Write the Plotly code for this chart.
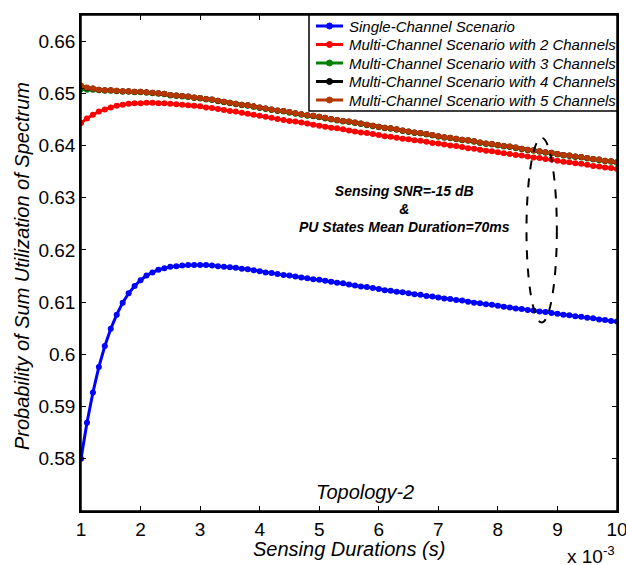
import plotly.graph_objects as go

# Sensing durations in units of 1e-3 s (1 ms to 10 ms, 0.1 ms steps)
durations = [round(1 + 0.1 * i, 1) for i in range(91)]

single_channel = [
    0.5800, 0.5869, 0.5927, 0.5976, 0.6016, 0.6049, 0.6076, 0.6099, 0.6117, 0.6131,
    0.6142, 0.6151, 0.6157, 0.6162, 0.6165, 0.6168, 0.6169, 0.6170, 0.6171, 0.6171,
    0.6171, 0.6171, 0.6170, 0.6169, 0.6168, 0.6167, 0.6166, 0.6164, 0.6163, 0.6161,
    0.6159, 0.6157, 0.6156, 0.6154, 0.6152, 0.6151, 0.6149, 0.6147, 0.6146, 0.6144,
    0.6143, 0.6141, 0.6139, 0.6137, 0.6136, 0.6134, 0.6132, 0.6130, 0.6129, 0.6127,
    0.6125, 0.6123, 0.6122, 0.6120, 0.6119, 0.6117, 0.6115, 0.6114, 0.6112, 0.6111,
    0.6109, 0.6107, 0.6106, 0.6104, 0.6103, 0.6101, 0.6099, 0.6098, 0.6096, 0.6095,
    0.6093, 0.6091, 0.6090, 0.6088, 0.6087, 0.6085, 0.6084, 0.6082, 0.6081, 0.6079,
    0.6078, 0.6076, 0.6075, 0.6073, 0.6072, 0.6070, 0.6069, 0.6067, 0.6066, 0.6064,
    0.6063,
]

multi_2ch = [
    0.6443, 0.6452, 0.6459, 0.6465, 0.6469, 0.6473, 0.6476, 0.6478, 0.6480, 0.6481,
    0.6481, 0.6482, 0.6482, 0.6481, 0.6481, 0.6480, 0.6479, 0.6478, 0.6477, 0.6476,
    0.6475, 0.6473, 0.6472, 0.6470, 0.6468, 0.6466, 0.6465, 0.6463, 0.6461, 0.6459,
    0.6457, 0.6455, 0.6453, 0.6451, 0.6449, 0.6447, 0.6446, 0.6444, 0.6442, 0.6440,
    0.6438, 0.6436, 0.6434, 0.6433, 0.6431, 0.6429, 0.6427, 0.6425, 0.6424, 0.6422,
    0.6420, 0.6418, 0.6417, 0.6415, 0.6413, 0.6412, 0.6410, 0.6409, 0.6407, 0.6405,
    0.6404, 0.6402, 0.6400, 0.6399, 0.6397, 0.6395, 0.6394, 0.6392, 0.6390, 0.6389,
    0.6387, 0.6385, 0.6384, 0.6382, 0.6381, 0.6379, 0.6377, 0.6376, 0.6374, 0.6373,
    0.6371, 0.6369, 0.6368, 0.6366, 0.6365, 0.6363, 0.6361, 0.6360, 0.6358, 0.6357,
    0.6355,
]

multi_3ch = [
    0.6508, 0.6507, 0.6507, 0.6506, 0.6505, 0.6505, 0.6504, 0.6503, 0.6503, 0.6502,
    0.6502, 0.6501, 0.6500, 0.6499, 0.6498, 0.6496, 0.6495, 0.6494, 0.6493, 0.6491,
    0.6490, 0.6488, 0.6487, 0.6485, 0.6483, 0.6481, 0.6479, 0.6477, 0.6476, 0.6474,
    0.6472, 0.6470, 0.6468, 0.6466, 0.6465, 0.6463, 0.6461, 0.6459, 0.6457, 0.6456,
    0.6454, 0.6452, 0.6450, 0.6448, 0.6446, 0.6445, 0.6443, 0.6441, 0.6439, 0.6437,
    0.6435, 0.6433, 0.6432, 0.6430, 0.6428, 0.6426, 0.6424, 0.6423, 0.6421, 0.6419,
    0.6417, 0.6415, 0.6414, 0.6412, 0.6410, 0.6409, 0.6407, 0.6405, 0.6403, 0.6402,
    0.6400, 0.6398, 0.6397, 0.6395, 0.6393, 0.6391, 0.6390, 0.6388, 0.6386, 0.6385,
    0.6383, 0.6381, 0.6380, 0.6378, 0.6377, 0.6375, 0.6373, 0.6372, 0.6370, 0.6369,
    0.6367,
]

multi_4ch = [
    0.6513, 0.6510, 0.6509, 0.6507, 0.6506, 0.6506, 0.6505, 0.6504, 0.6504, 0.6503,
    0.6503, 0.6502, 0.6501, 0.6500, 0.6499, 0.6497, 0.6496, 0.6495, 0.6494, 0.6492,
    0.6491, 0.6489, 0.6488, 0.6486, 0.6484, 0.6482, 0.6480, 0.6478, 0.6477, 0.6475,
    0.6473, 0.6471, 0.6469, 0.6467, 0.6466, 0.6464, 0.6462, 0.6460, 0.6458, 0.6457,
    0.6455, 0.6453, 0.6451, 0.6449, 0.6447, 0.6446, 0.6444, 0.6442, 0.6440, 0.6438,
    0.6436, 0.6434, 0.6433, 0.6431, 0.6429, 0.6427, 0.6425, 0.6424, 0.6422, 0.6420,
    0.6418, 0.6416, 0.6415, 0.6413, 0.6411, 0.6410, 0.6408, 0.6406, 0.6404, 0.6403,
    0.6401, 0.6399, 0.6398, 0.6396, 0.6394, 0.6392, 0.6391, 0.6389, 0.6387, 0.6386,
    0.6384, 0.6382, 0.6381, 0.6379, 0.6378, 0.6376, 0.6374, 0.6373, 0.6371, 0.6370,
    0.6368,
]

multi_5ch = [
    0.6515, 0.6511, 0.6509, 0.6507, 0.6506, 0.6506, 0.6505, 0.6504, 0.6504, 0.6503,
    0.6503, 0.6502, 0.6501, 0.6500, 0.6499, 0.6497, 0.6496, 0.6495, 0.6494, 0.6492,
    0.6491, 0.6489, 0.6488, 0.6486, 0.6484, 0.6482, 0.6480, 0.6478, 0.6477, 0.6475,
    0.6473, 0.6471, 0.6469, 0.6467, 0.6466, 0.6464, 0.6462, 0.6460, 0.6458, 0.6457,
    0.6455, 0.6453, 0.6451, 0.6449, 0.6447, 0.6446, 0.6444, 0.6442, 0.6440, 0.6438,
    0.6436, 0.6434, 0.6433, 0.6431, 0.6429, 0.6427, 0.6425, 0.6424, 0.6422, 0.6420,
    0.6418, 0.6416, 0.6415, 0.6413, 0.6411, 0.6410, 0.6408, 0.6406, 0.6404, 0.6403,
    0.6401, 0.6399, 0.6398, 0.6396, 0.6394, 0.6392, 0.6391, 0.6389, 0.6387, 0.6386,
    0.6384, 0.6382, 0.6381, 0.6379, 0.6378, 0.6376, 0.6374, 0.6373, 0.6371, 0.6370,
    0.6368,
]

series_names = [
    "Single-Channel Scenario",
    "Multi-Channel Scenario with 2 Channels",
    "Multi-Channel Scenario with 3 Channels",
    "Multi-Channel Scenario with 4 Channels",
    "Multi-Channel Scenario with 5 Channels",
]
series_values = [single_channel, multi_2ch, multi_3ch, multi_4ch, multi_5ch]
series_colors = ["#0000ff", "#ff0000", "#008000", "#000000", "#b43700"]

x_ticks = [1, 2, 3, 4, 5, 6, 7, 8, 9, 10]
y_ticks = [0.58, 0.59, 0.60, 0.61, 0.62, 0.63, 0.64, 0.65, 0.66]
y_tick_text = ["0.58", "0.59", "0.6", "0.61", "0.62", "0.63", "0.64", "0.65", "0.66"]

FONT = "Liberation Sans, Arial, Helvetica, sans-serif"
W, H = 626, 565
ML, MR, MT, MB = 81, 9, 15, 54
PW, PH = W - ML - MR, H - MT - MB


def px_x(px):
    """Horizontal pixel -> paper coordinate."""
    return (px - ML) / PW


def px_y(py):
    """Vertical pixel (from top) -> paper coordinate."""
    return (H - MB - py) / PH


fig = go.Figure()
for name, vals, col in zip(series_names, series_values, series_colors):
    fig.add_trace(go.Scatter(
        x=durations, y=vals, name=name, mode="lines+markers",
        line=dict(color=col, width=3),
        marker=dict(color=col, size=6, symbol="circle"),
        showlegend=False,
    ))

axis_common = dict(
    showline=True, linecolor="black", linewidth=1.5, mirror="ticks",
    ticks="inside", ticklen=5, tickwidth=1, tickcolor="black",
    showgrid=False, zeroline=False, automargin=False,
    ticklabeloverflow="allow",
    tickfont=dict(family=FONT, size=19, color="black"),
)

fig.update_xaxes(range=[1, 10], tickvals=x_ticks,
                 ticktext=[str(t) for t in x_ticks], **axis_common)
fig.update_yaxes(range=[0.57, 0.665], tickvals=y_ticks,
                 ticktext=y_tick_text, **axis_common)

shapes = []
# Axes frame
shapes.append(dict(type="rect", xref="paper", yref="paper",
                   x0=0, x1=1, y0=0, y1=1,
                   line=dict(color="black", width=1.5), layer="above"))
# Highlight ellipse around the curves near 8.7 ms
shapes.append(dict(type="circle", xref="x", yref="y",
                   x0=8.48, x1=8.99, y0=0.6061, y1=0.6415,
                   line=dict(color="black", width=2, dash="dash")))

annotations = [
    dict(text="<b><i>Sensing SNR=-15 dB<br>&amp;<br>PU States Mean Duration=70ms</i></b>",
         x=6.43, y=0.6278, xref="x", yref="y", showarrow=False,
         font=dict(family=FONT, size=14, color="black"), align="center"),
    dict(text="<i>Topology-2</i>", x=5.77, y=0.5736, xref="x", yref="y",
         showarrow=False, font=dict(family=FONT, size=20, color="black")),
    dict(text="<i>Sensing Durations (s)</i>", x=0.5, y=px_y(549), xref="paper",
         yref="paper", yanchor="middle", showarrow=False,
         font=dict(family=FONT, size=20, color="black")),
    dict(text="<i>Probability of Sum Utilization of Spectrum</i>", x=px_x(22),
         y=px_y(266), xref="paper", yref="paper", textangle=-90, showarrow=False,
         xanchor="center", yanchor="middle",
         font=dict(family=FONT, size=20, color="black")),
    dict(text="x 10<sup>-3</sup>", x=1.0, y=px_y(541), xref="paper", yref="paper",
         xanchor="right", yanchor="top", showarrow=False,
         font=dict(family=FONT, size=19, color="black")),
]

# Boxed legend in the top-right corner of the axes
lg_left, lg_right, lg_top, lg_bottom = 309, 617, 15, 111
shapes.append(dict(type="rect", xref="paper", yref="paper",
                   x0=px_x(lg_left), x1=px_x(lg_right),
                   y0=px_y(lg_bottom), y1=px_y(lg_top),
                   line=dict(color="black", width=1.5), fillcolor="white",
                   layer="above"))
row_y = [26, 44.5, 63, 81.5, 100]
for name, col, ry in zip(series_names, series_colors, row_y):
    shapes.append(dict(type="line", xref="paper", yref="paper",
                       x0=px_x(316), x1=px_x(343), y0=px_y(ry), y1=px_y(ry),
                       line=dict(color=col, width=3), layer="above"))
    r = 3.0
    shapes.append(dict(type="circle", xref="paper", yref="paper",
                       x0=px_x(329.5 - r), x1=px_x(329.5 + r),
                       y0=px_y(ry + r), y1=px_y(ry - r),
                       line=dict(color=col, width=1), fillcolor=col,
                       layer="above"))
    annotations.append(dict(text="<i>" + name + "</i>", x=px_x(347), y=px_y(ry),
                            xref="paper", yref="paper", xanchor="left",
                            yanchor="middle", showarrow=False,
                            font=dict(family=FONT, size=15, color="black")))

fig.update_layout(
    template="none",
    width=W, height=H,
    margin=dict(l=ML, r=MR, t=MT, b=MB, pad=0),
    plot_bgcolor="white", paper_bgcolor="white",
    font=dict(family=FONT, color="black"),
    annotations=annotations,
    shapes=shapes,
    showlegend=False,
)

fig.write_html("out.html")
